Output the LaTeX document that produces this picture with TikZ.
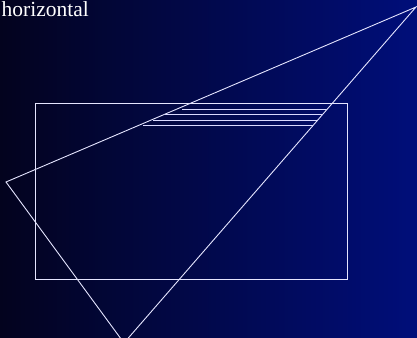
\documentclass[tikz,border=0pt]{standalone}
\usepackage{fontspec}
\setmainfont{Liberation Serif}
\usetikzlibrary{calc}

\definecolor{bgleft}{RGB}{3,3,30}
\definecolor{bgright}{RGB}{0,14,122}

\begin{document}
\begin{tikzpicture}[x=1pt,y=-1pt,
  wire/.style={draw=white!90!blue,line width=0.9pt},
  hatch/.style={draw=white!85!blue,line width=0.9pt}
]
\shade[left color=bgleft,right color=bgright] (0,0) rectangle (417,337);
\useasboundingbox (0,0) rectangle (417,337);
\clip (0,0) rectangle (417,337);

\node[anchor=base west,inner sep=0pt,text=white,font=\fontsize{21.5}{26}\selectfont] (lbl) at (1.5,17) {horizontal};

% the box
\draw[wire] (35,103.3) rectangle (347,279);

% the triangle
\coordinate (pl) at (6,182);
\coordinate (pt) at (416,7);
\coordinate (pb) at (124,343);
\draw[wire] (pl) -- (pt) -- (pb) -- cycle;

% scan lines
\foreach \y/\xa/\xb in {109/182/327.4,114.6/165/322.8,120.2/153/317.8,125.8/143/313}
  \draw[hatch] (\xa,\y) -- (\xb,\y);
\end{tikzpicture}
\end{document}
